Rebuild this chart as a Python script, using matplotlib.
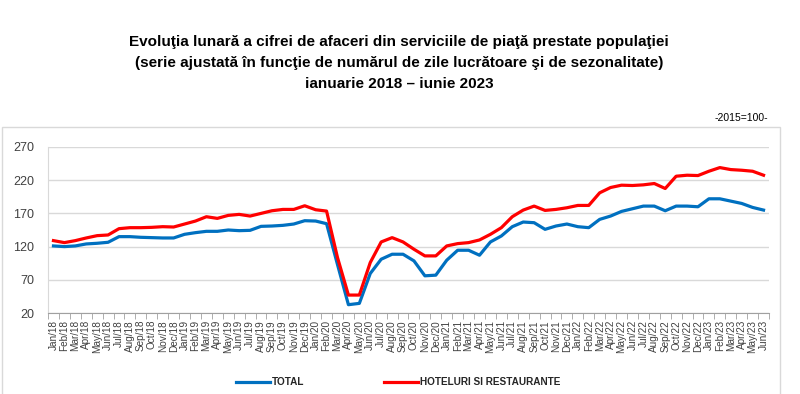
import matplotlib.pyplot as plt
import numpy as np

# luni ian 2018 - iun 2023
luni = ['Jan', 'Feb', 'Mar', 'Apr', 'May', 'Jun', 'Jul', 'Aug', 'Sep', 'Oct', 'Nov', 'Dec']
ani = ['18', '19', '20', '21', '22', '23']
etichete = [m + '/' + a for a in ani for m in luni][:66]

total = [121, 120, 121, 124, 125, 126.5, 135, 135, 134, 133.5, 133, 133,
         138.5, 141, 143, 143, 145, 144, 144.5, 150.5, 151, 152, 154, 159,
         158.5, 154.5, 93, 32.5, 34.5, 79.5, 101, 108.5, 108.5, 98.5, 76, 77,
         99.5, 114.5, 114.5, 107, 127, 136, 150, 157, 156, 146, 151, 154,
         150, 148.5, 161, 166, 173, 177, 181, 181, 174, 181, 181, 180,
         192, 192, 188.5, 185, 179, 175]

hoteluri = [129, 126, 129, 133, 136.5, 137.5, 147, 148.5, 148.5, 149, 150, 149.5,
            154, 158.5, 165, 162.5, 167, 168.5, 166, 170, 174, 176, 176, 181.5,
            175.5, 173.5, 103.5, 47, 47, 96, 127, 133.5, 127, 116, 106, 106,
            121, 124.5, 126, 130, 138.5, 148.5, 165, 175, 181, 174.5, 176, 178.5,
            182, 182, 201, 209, 212.5, 212, 213, 215, 207.5, 226, 227.5, 227,
            233.5, 239, 236, 235, 233.5, 227.5]

plt.rcParams['font.family'] = ['Liberation Sans', 'DejaVu Sans']

fig = plt.figure(figsize=(8, 3.94), dpi=100)

# chenarul gri din jurul graficului
fig.patches.append(plt.Rectangle((2 / 800, -0.05), 778 / 800, 1 - 127 / 394 + 0.05,
                                 transform=fig.transFigure, fill=False,
                                 edgecolor='#d9d9d9', linewidth=1))

fig.text(0.499, 1 - 63 / 394,
         'Evoluţia lunară a cifrei de afaceri din serviciile de piaţă prestate populaţiei\n'
         '(serie ajustată în funcţie de numărul de zile lucrătoare şi de sezonalitate)\n'
         'ianuarie 2018 – iunie 2023',
         ha='center', va='center', fontsize=11, fontweight='bold', linespacing=1.6)
fig.text(768 / 800, 1 - 118 / 394, '-2015=100-', ha='right', va='center', fontsize=7.5)

ax = fig.add_axes([48 / 800, 1 - 313 / 394, (769 - 48) / 800, (313 - 147) / 394])
x = np.arange(len(etichete))
ax.plot(x, total, color='#0070C0', linewidth=2.3, label='TOTAL', solid_joinstyle='round')
ax.plot(x, hoteluri, color='#FF0000', linewidth=2.3, label='HOTELURI SI RESTAURANTE',
        solid_joinstyle='round')

ax.set_xlim(-0.5, len(etichete) - 0.5)
ax.set_ylim(20, 270)
ax.set_yticks([20, 70, 120, 170, 220, 270])
ax.grid(axis='y', color='#d9d9d9', linewidth=1)
ax.set_axisbelow(True)

ax.set_xticks(x)
ax.set_xticklabels(etichete, rotation=90, fontsize=7.2, color='#404040')
ax.set_xticks(np.arange(-0.5, len(etichete)), minor=True)
ax.tick_params(axis='x', which='major', length=0, pad=5)
ax.tick_params(axis='x', which='minor', length=4, color='#a0a0a0', direction='out')
ax.tick_params(axis='y', length=0, labelsize=9, colors='#404040', pad=10)

for s in ['top', 'right']:
    ax.spines[s].set_visible(False)
ax.spines['left'].set_color('#d9d9d9')
ax.spines['bottom'].set_color('#a0a0a0')

leg = fig.legend(loc='center', bbox_to_anchor=(398 / 800, 1 - 382 / 394), ncol=2,
                 frameon=False, handlelength=3.4, columnspacing=8, handletextpad=0.2,
                 prop={'weight': 'bold', 'size': 7.2})
for t in leg.get_texts():
    t.set_color('#262626')

fig.savefig('out.png', dpi=100)
